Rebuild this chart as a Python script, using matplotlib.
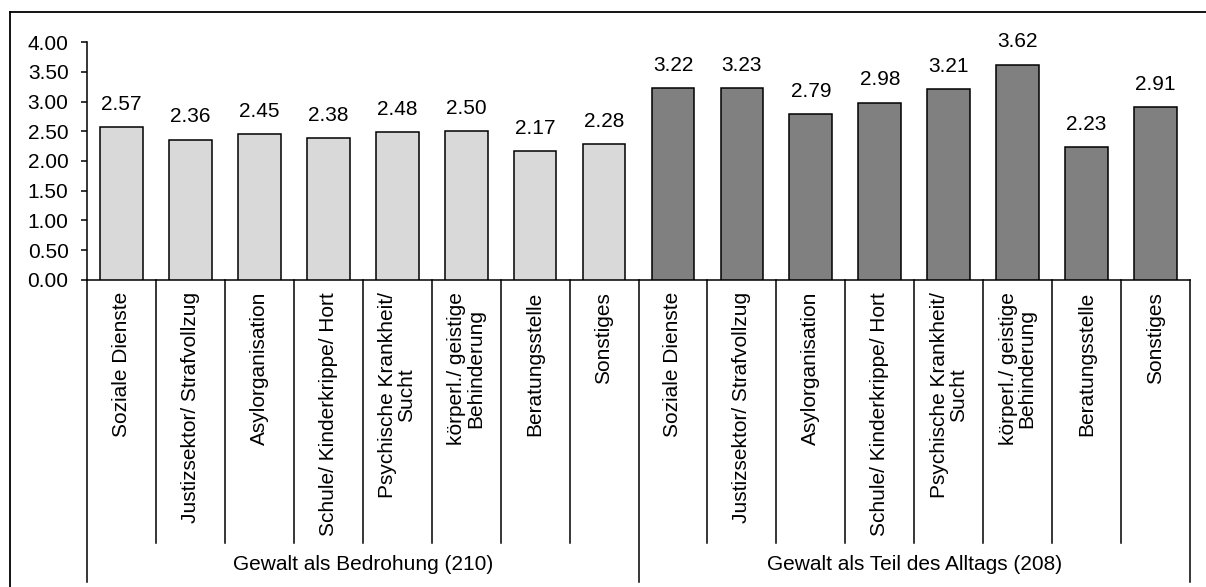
import matplotlib
matplotlib.use("Agg")
import matplotlib.pyplot as plt
from matplotlib.lines import Line2D
import matplotlib.transforms as mtransforms

plt.rcParams['font.family'] = ['Liberation Sans', 'DejaVu Sans']

categories = ["Soziale Dienste", "Justizsektor/ Strafvollzug", "Asylorganisation",
              "Schule/ Kinderkrippe/ Hort", "Psychische Krankheit/\nSucht",
              "körperl./ geistige\nBehinderung", "Beratungsstelle", "Sonstiges"]
groups = ["Gewalt als Bedrohung (210)", "Gewalt als Teil des Alltags (208)"]
values_threat = [2.57, 2.36, 2.45, 2.38, 2.48, 2.50, 2.17, 2.28]
values_daily = [3.22, 3.23, 2.79, 2.98, 3.21, 3.62, 2.23, 2.91]
yticks = [0, 0.5, 1.0, 1.5, 2.0, 2.5, 3.0, 3.5, 4.0]

W, H = 1206, 587
fig = plt.figure(figsize=(W / 100, H / 100), dpi=100)
ax = fig.add_axes([87 / W, 1 - 280 / H, (1190 - 87) / W, (280 - 42) / H])

n = len(categories)
x1 = list(range(n))
x2 = list(range(n, 2 * n))
ax.bar(x1, values_threat, width=0.62, color="#d9d9d9", edgecolor="black", linewidth=1.1, zorder=3)
ax.bar(x2, values_daily, width=0.62, color="#808080", edgecolor="black", linewidth=1.1, zorder=3)

for xs, vs in ((x1, values_threat), (x2, values_daily)):
    for x, v in zip(xs, vs):
        ax.annotate(f"{v:.2f}", (x, v), xytext=(0, 9.5), textcoords="offset points",
                    ha="center", va="bottom", fontsize=15)

ax.set_xlim(-0.5, 2 * n - 0.5)
ax.set_ylim(0, 4)
ax.set_yticks(yticks)
ax.set_yticklabels([f"{t:.2f}" for t in yticks], fontsize=15)
ax.tick_params(axis="y", length=4.3, width=1.1, pad=9)
ax.set_xticks([])
for s in ("top", "right"):
    ax.spines[s].set_visible(False)
for s in ("left", "bottom"):
    ax.spines[s].set_linewidth(1.1)

blend = mtransforms.blended_transform_factory(ax.transData, fig.transFigure)
y_axis = 1 - 280 / H
y_short = 1 - 543 / H
y_long = 1 - 582 / H
for i in range(2 * n + 1):
    xb = i - 0.5
    yb = y_long if i % n == 0 else y_short
    fig.add_artist(Line2D([xb, xb], [y_axis, yb], transform=blend, color="black", lw=1.1))

labels = categories + categories
for i, lab in enumerate(labels):
    fig.text(i, 1 - 292 / H, lab, transform=blend, rotation=90, ha="center", va="top",
             multialignment="center", fontsize=15, linespacing=1.0)

for g, name in enumerate(groups):
    fig.text(g * n + (n - 1) / 2, 1 - 565 / H, name, transform=blend, ha="center",
             va="center", fontsize=15)

# outer border of chart area
fig.add_artist(Line2D([10 / W, 10 / W], [1 - 12 / H, 0], transform=fig.transFigure, color="black", lw=1.3))
fig.add_artist(Line2D([10 / W, 1], [1 - 12 / H, 1 - 12 / H], transform=fig.transFigure, color="black", lw=1.3))

fig.savefig("out.png", dpi=100)
